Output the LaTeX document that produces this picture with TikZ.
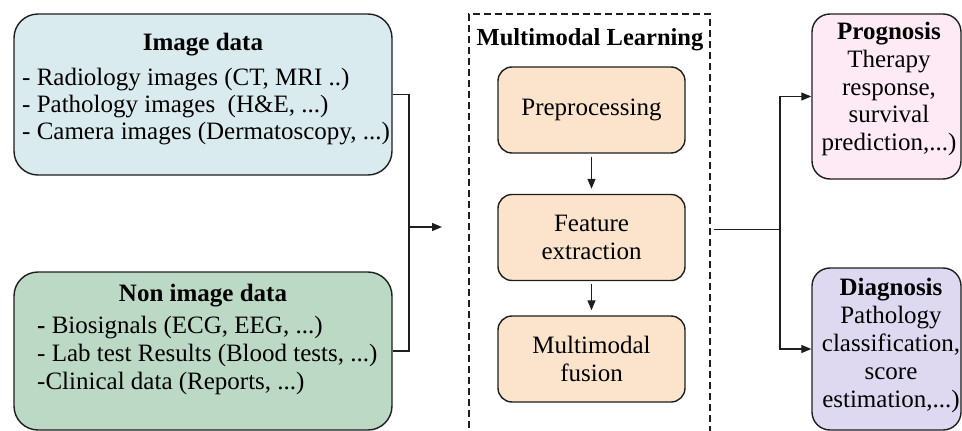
\documentclass[tikz,border=0pt]{standalone}
\usepackage{fontspec}
\setmainfont{Liberation Serif}
\usetikzlibrary{arrows.meta}
\definecolor{cimg}{RGB}{218,235,240}
\definecolor{cnon}{RGB}{187,217,196}
\definecolor{cstep}{RGB}{252,228,204}
\definecolor{cprog}{RGB}{253,234,244}
\definecolor{cdiag}{RGB}{222,217,240}
\definecolor{cline}{RGB}{30,30,30}
\tikzset{
  bigbox/.style={draw=cline, line width=1.4pt, rounded corners=24pt, inner sep=0pt},
  stepbox/.style={draw=cline, line width=1.4pt, rounded corners=14pt, fill=cstep, inner sep=0pt,
    minimum width=187pt, minimum height=86pt, align=center, font=\fontsize{25}{27.5}\selectfont},
  outbox/.style={draw=cline, line width=1.4pt, rounded corners=18pt, inner sep=0pt, minimum width=149pt},
  txt/.style={inner sep=0pt, font=\fontsize{25}{27}\selectfont},
  conn/.style={draw=cline, line width=1.3pt},
  arr/.style={conn, -{Triangle[length=10pt,width=8pt]}}
}
\begin{document}
\begin{tikzpicture}[x=1pt,y=-1pt]
\useasboundingbox (0,0) rectangle (962,431);
% left boxes
\node[bigbox, fill=cimg, minimum width=378pt, minimum height=161pt] (img) at (203,94.5) {};
\node[txt] (imgt) at (203,45) {\textbf{Image data}};
\node[txt, anchor=west, align=left] (imgl) at (22,107) {- Radiology images (CT, MRI ..)\\- Pathology images\ \ (H\&E, ...)\\- Camera images (Dermatoscopy, ...)};
\node[bigbox, fill=cnon, minimum width=378pt, minimum height=158pt] (non) at (203,351) {};
\node[txt] (nont) at (203,296) {\textbf{Non image data}};
\node[txt, anchor=west, align=left, font=\fontsize{25}{28}\selectfont] (nonl) at (37,355) {\textbf{-} Biosignals (ECG, EEG, ...)\\- Lab test Results (Blood tests, ...)\\-Clinical data (Reports, ...)};
% left connector
\coordinate (lj) at (409,227);
\coordinate (la) at (442,227);
\draw[conn] (img.east) -| (lj) |- (non.east);
\draw[arr] (lj) -- (la);
% middle
\node[draw=cline, line width=1.2pt, dash pattern=on 7pt off 4pt, minimum width=241pt, minimum height=431pt, inner sep=0pt] (ml) at (589.5,229.5) {};
\node[txt, font=\fontsize{24.5}{27}\selectfont] (mlt) at (590,40) {\textbf{Multimodal Learning}};
\node[stepbox] (pre) at (591.5,110) {Preprocessing};
\node[stepbox] (fea) at (591.5,237.5) {Feature\\extraction};
\node[stepbox] (fus) at (591.5,359) {Multimodal\\fusion};
\draw[arr, shorten <=3pt, shorten >=5pt] (pre) -- (fea);
\draw[arr, shorten <=3pt, shorten >=5pt] (fea) -- (fus);
% right
\node[outbox, fill=cprog, minimum height=165pt] (prog) at (886.5,96.5) {};
\node[txt, align=center, font=\fontsize{25}{27.7}\selectfont] (progt) at (889,89) {\textbf{Prognosis}\\Therapy\\response,\\survival\\prediction,...)};
\node[outbox, fill=cdiag, minimum height=162pt] (diag) at (886.5,349) {};
\node[txt, align=center, font=\fontsize{25}{28}\selectfont] (diagt) at (891,345) {\textbf{Diagnosis}\\Pathology\\classification,\\score\\estimation,...)};
\coordinate (rj) at (780,229.5);
\draw[conn, shorten <=3pt] (ml.east) -- (rj);
\draw[arr] (rj) |- (prog.west);
\draw[arr] (rj) |- (diag.west);
\end{tikzpicture}
\end{document}
